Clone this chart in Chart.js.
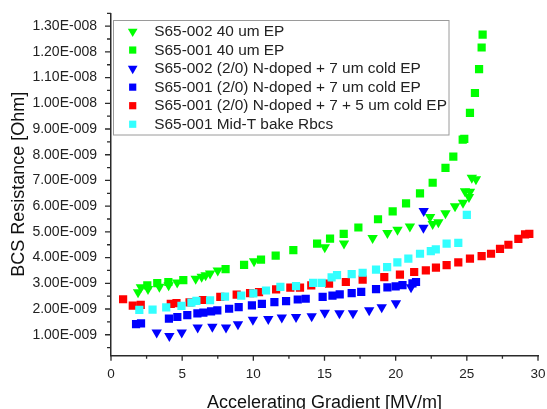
<!DOCTYPE html>
<html><head><meta charset="utf-8">
<script src="https://cdn.jsdelivr.net/npm/chart.js@4.4.1/dist/chart.umd.min.js"></script>
<style>html,body{margin:0;padding:0;background:#fff;overflow:hidden}canvas{display:block}</style>
</head><body>
<canvas id="c" width="547" height="409" style="width:547px;height:409px"></canvas>
<script>
// Values are in units of 1e-9 Ohm (tick labels show Ohm)
const seriesLabels = [
  'S65-002 40 um EP',
  'S65-001 40 um EP',
  'S65-002 (2/0) N-doped + 7 um cold EP',
  'S65-001 (2/0) N-doped + 7 um cold EP',
  'S65-001 (2/0) N-doped + 7 + 5 um cold EP',
  'S65-001 Mid-T bake Rbcs'
];
const s002EP_x = [1.9,2.1,2.6,3.4,4.05,4.65,5.95,6.37,6.65,6.96,7.5,10.05,15.02,16.37,18.38,19.42,20.13,21.0,22.42,22.6,23.0,23.5,24.17,24.73,24.87,25.15,25.22,25.35,25.64];
const s002EP_y = [2.65,2.85,2.78,2.87,2.92,3.03,3.18,3.25,3.31,3.38,3.5,3.86,4.4,4.55,4.76,4.96,5.08,5.21,5.58,5.31,5.37,5.72,6.0,6.13,6.58,6.36,6.56,7.1,7.05];
const s001EP_x = [2.55,3.25,4.03,5.08,8.05,9.35,10.54,11.57,12.81,14.48,15.39,16.35,17.38,18.76,19.79,20.73,21.71,22.6,23.5,24.05,24.71,24.82,25.22,25.57,25.86,26.04,26.11];
const s001EP_y = [2.92,3.01,3.05,3.12,3.55,3.72,3.92,4.08,4.29,4.54,4.74,4.92,5.17,5.49,5.8,6.11,6.5,6.91,7.49,7.93,8.59,8.62,9.63,10.4,11.33,12.17,12.67];
const s002N7_x = [3.21,4.1,4.97,6.09,7.12,8.08,8.92,9.97,11.05,12.0,13.0,14.1,15.02,16.05,17.0,18.14,19.02,20.02,21.08,21.95,21.97];
const s002N7_y = [1.09,0.95,1.09,1.28,1.31,1.28,1.41,1.58,1.61,1.67,1.69,1.72,1.85,1.84,1.84,1.95,2.07,2.22,2.85,5.16,5.81];
const s001N7_x = [1.76,2.11,4.07,4.66,5.36,6.07,6.49,7.03,7.47,8.3,8.97,9.9,10.6,11.48,12.3,13.12,13.68,14.87,15.56,16.07,16.91,17.58,18.62,19.42,20.0,20.48,21.18,21.43];
const s001N7_y = [1.41,1.44,1.63,1.69,1.76,1.83,1.86,1.91,1.95,2.01,2.07,2.14,2.2,2.27,2.31,2.37,2.4,2.47,2.52,2.57,2.62,2.67,2.77,2.84,2.88,2.93,3.0,3.05];
const s001N75_x = [0.85,1.53,2.09,4.2,4.6,5.52,6.46,7.68,8.83,9.77,10.4,11.6,12.6,13.28,14.07,15.32,16.5,17.68,19.2,20.3,21.3,22.12,22.83,23.58,24.4,25.22,26.04,26.7,27.33,27.92,28.62,29.09,29.39];
const s001N75_y = [2.38,2.13,2.16,2.2,2.23,2.26,2.35,2.47,2.56,2.62,2.66,2.76,2.83,2.83,2.92,2.99,3.05,3.14,3.24,3.34,3.44,3.5,3.61,3.71,3.81,3.96,4.06,4.15,4.34,4.5,4.73,4.9,4.92];
const s001MidT_x = [1.99,2.92,3.88,4.95,5.65,6.0,6.96,8.01,9.15,10.0,10.89,11.9,13.0,14.2,14.8,15.5,15.88,16.91,17.68,18.62,19.4,20.12,20.89,21.71,22.47,22.82,23.58,24.4,25.0];
const s001MidT_y = [1.97,1.98,2.06,2.12,2.25,2.32,2.34,2.48,2.52,2.61,2.72,2.86,2.89,3.02,3.02,3.23,3.32,3.36,3.41,3.53,3.63,3.81,3.96,4.15,4.25,4.32,4.54,4.57,5.66];

const xTickValues = [0,5,10,15,20,25,30];
const xMinorValues = [2.5,7.5,12.5,17.5,22.5,27.5];
const yTickValues = [1,2,3,4,5,6,7,8,9,10,11,12,13];
const yTickLabels = ['1.00E-009','2.00E-009','3.00E-009','4.00E-009','5.00E-009','6.00E-009','7.00E-009','8.00E-009','9.00E-009','1.00E-008','1.10E-008','1.20E-008','1.30E-008'];
const yMinorValues = [0.5,1.5,2.5,3.5,4.5,5.5,6.5,7.5,8.5,9.5,10.5,11.5,12.5,13.5];

const colors = ['#00FF00','#00FF00','#0000FF','#0000FF','#FF0000','#33FFFF'];
const styles = ['triangle','rect','triangle','rect','rect','rect'];
const xsAll = [s002EP_x,s001EP_x,s002N7_x,s001N7_x,s001N75_x,s001MidT_x];
const ysAll = [s002EP_y,s001EP_y,s002N7_y,s001N7_y,s001N75_y,s001MidT_y];

const FONT = "'Liberation Sans', Arial, sans-serif";
const AXIS = '#2a2a2a';

const datasets = seriesLabels.map((lab,i)=>({
  label: lab,
  data: xsAll[i].map((x,j)=>({x:x, y:ysAll[i][j]})),
  pointStyle: styles[i],
  pointRotation: styles[i]==='triangle' ? 180 : 0,
  pointRadius: styles[i]==='triangle' ? 6 : 5.8,
  pointHoverRadius: styles[i]==='triangle' ? 6 : 5.8,
  backgroundColor: colors[i],
  borderColor: colors[i],
  borderWidth: 0,
  showLine: false,
  order: 5 - i
}));

function drawMarker(ctx, style, x, y, color) {
  ctx.save();
  ctx.fillStyle = color;
  ctx.beginPath();
  if (style === 'triangle') {
    const r = 5.6;
    ctx.moveTo(x, y + r);
    ctx.lineTo(x - r*0.866, y - r/2);
    ctx.lineTo(x + r*0.866, y - r/2);
    ctx.closePath();
  } else {
    ctx.rect(x - 3.6, y - 3.6, 7.2, 7.2);
  }
  ctx.fill();
  ctx.restore();
}

const legendPlugin = {
  id: 'boxLegend',
  afterDatasetsDraw(chart) {
    const ctx = chart.ctx;
    const bx = 113.5, by = 20.5, bw = 335.5, bh = 114.5;
    ctx.save();
    ctx.fillStyle = '#fff';
    ctx.fillRect(bx, by, bw, bh);
    ctx.strokeStyle = '#9a9a9a';
    ctx.lineWidth = 1;
    ctx.strokeRect(bx, by, bw, bh);
    ctx.font = '15.4px ' + FONT;
    ctx.fillStyle = '#222';
    ctx.textBaseline = 'middle';
    ctx.textAlign = 'left';
    seriesLabels.forEach((lab,i)=>{
      const y = 31.5 + i*18.55;
      drawMarker(ctx, styles[i], 132.7, y, colors[i]);
      ctx.fillText(lab, 154.3, y + 0.5);
    });
    ctx.restore();
  }
};

const tickPlugin = {
  id: 'tickMarks',
  afterDraw(chart) {
    const ctx = chart.ctx, xs = chart.scales.x, ys = chart.scales.y;
    ctx.save();
    ctx.strokeStyle = AXIS;
    ctx.lineWidth = 1.3;
    ctx.beginPath();
    const xb = xs.top;
    xTickValues.forEach(v=>{ const p = xs.getPixelForValue(v); ctx.moveTo(p, xb); ctx.lineTo(p, xb+5.5); });
    xMinorValues.forEach(v=>{ const p = xs.getPixelForValue(v); ctx.moveTo(p, xb); ctx.lineTo(p, xb+3.5); });
    const yl = ys.right;
    yTickValues.forEach(v=>{ const p = ys.getPixelForValue(v); ctx.moveTo(yl, p); ctx.lineTo(yl-6, p); });
    yMinorValues.forEach(v=>{ const p = ys.getPixelForValue(v); ctx.moveTo(yl, p); ctx.lineTo(yl-4, p); });
    ctx.stroke();
    ctx.restore();
  }
};

new Chart(document.getElementById('c'), {
  type: 'scatter',
  data: { datasets },
  options: {
    responsive: false,
    animation: false,
    devicePixelRatio: 1,
    layout: { padding: { top: 13.3, right: 9, left: 0, bottom: 0 } },
    plugins: { legend: { display: false }, tooltip: { enabled: false } },
    scales: {
      x: {
        type: 'linear', min: 0, max: 30,
        afterBuildTicks: s => { s.ticks = xTickValues.map(v=>({value:v})); },
        afterFit: s => { s.height = 53.7; s.paddingLeft = 0; s.paddingRight = 0; s.paddingTop = 0; s.paddingBottom = 0; },
        grid: { display: false, drawTicks: false, tickLength: 0 },
        border: { display: true, color: AXIS, width: 1.5 },
        ticks: { padding: 11, color: '#222', font: { family: FONT, size: 13.5 }, maxRotation: 0,
                 callback: v => String(v) },
        title: { display: true, text: 'Accelerating Gradient [MV/m]', color: '#111',
                 font: { family: FONT, size: 18 }, padding: { top: 0, bottom: -5 } }
      },
      y: {
        type: 'linear', min: 0.2, max: 13.5,
        afterBuildTicks: s => { s.ticks = yTickValues.map(v=>({value:v})); },
        afterFit: s => { s.width = 111; s.paddingTop = 0; s.paddingBottom = 0; s.paddingLeft = 0; s.paddingRight = 0; },
        grid: { display: false, drawTicks: false, tickLength: 0 },
        border: { display: true, color: AXIS, width: 1.5 },
        ticks: { padding: 14, color: '#222', font: { family: FONT, size: 14 },
                 callback: (v, i) => yTickLabels[i] },
        title: { display: true, text: 'BCS Resistance [Ohm]', color: '#111',
                 font: { family: FONT, size: 18 }, padding: { top: 8, bottom: 0 } }
      }
    }
  },
  plugins: [legendPlugin, tickPlugin]
});
</script>
</body></html>
